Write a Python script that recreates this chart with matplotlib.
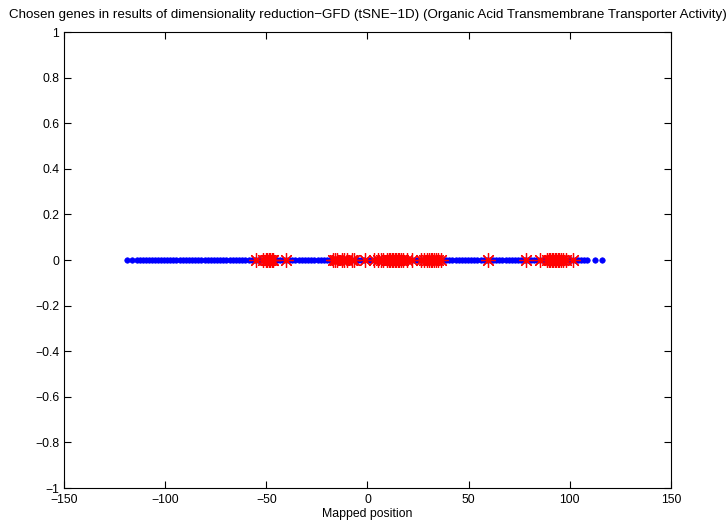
import matplotlib
matplotlib.use("Agg")
import matplotlib.pyplot as plt

plt.rcParams['font.family'] = ['Liberation Sans', 'DejaVu Sans']

title = "Chosen genes in results of dimensionality reduction\u2212GFD (tSNE\u22121D) (Organic Acid Transmembrane Transporter Activity)"
xlabel = "Mapped position"

all_genes = [-118.8, -116.3, -113.9, -112.4, -111.0, -109.6, -108.1, -106.5, -105.2, -103.7,
             -102.0, -100.6, -99.1, -97.4, -96.0, -94.5, -92.9, -91.3, -89.8, -88.4, -86.7,
             -85.1, -83.6, -82.2, -80.5, -79.0, -77.4, -75.9, -74.3, -72.8, -71.2, -69.7,
             -68.1, -66.6, -65.0, -63.5, -61.9, -60.4, -58.8, -57.3, -55.7, -54.2, -52.6,
             -51.1, -49.5, -48.0, -46.4, -44.9, -43.3, -41.8, -40.2, -38.7, -37.1, -35.6,
             -34.0, -32.5, -30.9, -29.4, -27.8, -26.3, -24.7, -23.2, -21.6, -20.1, -18.5,
             -17.0, -15.4, -13.9, -12.3, -10.8, -9.2, -7.7, -6.1, -4.6, -3.0, -1.5, 0.1, 1.6,
             3.2, 4.7, 6.3, 7.8, 9.4, 10.9, 12.5, 14.0, 15.6, 17.1, 18.7, 20.2, 21.8, 23.3,
             24.9, 26.4, 28.0, 29.5, 31.1, 32.6, 34.2, 35.7, 37.3, 38.8, 40.4, 41.9, 43.5,
             45.0, 46.6, 48.1, 49.7, 51.2, 52.8, 54.3, 55.9, 57.4, 59.0, 60.5, 62.1, 63.6,
             65.2, 66.7, 68.3, 69.8, 71.4, 72.9, 74.5, 76.0, 77.6, 79.1, 80.7, 82.2, 83.8,
             85.3, 86.9, 88.4, 90.0, 91.5, 93.1, 94.6, 96.2, 97.7, 99.3, 100.8, 102.4, 103.9,
             105.5, 107.0, 108.6, 112.5, 116.0]

chosen_genes = [-55.0, -51.5, -50.2, -49.6, -48.8, -48.0, -47.2, -46.7, -40.5, -17.0, -16.2,
                -15.0, -12.6, -11.5, -10.0, -7.7, -6.5, -1.2, 3.0, 5.0, 6.5, 7.5, 9.6, 10.5,
                11.2, 12.0, 12.8, 13.5, 14.2, 15.0, 15.8, 16.5, 17.5, 19.5, 22.0, 26.5, 28.0,
                29.5, 30.5, 31.2, 32.0, 33.0, 34.0, 35.0, 36.5, 59.6, 78.4, 85.5, 88.7, 89.5,
                90.3, 91.0, 91.8, 92.5, 93.2, 94.0, 94.8, 95.6, 96.6, 98.0, 101.5]

xticks = [-150, -100, -50, 0, 50, 100, 150]
xticklabels = ["\u2212150", "\u2212100", "\u221250", "0", "50", "100", "150"]
yticks = [-1, -0.8, -0.6, -0.4, -0.2, 0, 0.2, 0.4, 0.6, 0.8, 1]
yticklabels = ["\u22121", "\u22120.8", "\u22120.6", "\u22120.4", "\u22120.2", "0",
               "0.2", "0.4", "0.6", "0.8", "1"]

fig = plt.figure(figsize=(7.28, 5.23), dpi=100)
ax = fig.add_axes([0.0879, 0.0669, 0.8338, 0.8719])

ax.plot(all_genes, [0] * len(all_genes), linestyle='none', marker='o',
        markersize=4.0, color=(0, 0, 1), markeredgewidth=0.4)
ax.plot(chosen_genes, [0] * len(chosen_genes), linestyle='none', marker=(8, 2, 0),
        markersize=10.5, color=(1, 0, 0), markeredgewidth=0.9)

ax.set_xlim(-150, 150)
ax.set_ylim(-1, 1)
ax.set_xticks(xticks)
ax.set_xticklabels(xticklabels)
ax.set_yticks(yticks)
ax.set_yticklabels(yticklabels)
ax.tick_params(direction='in', length=5, width=0.8, top=True, right=True,
               labelsize=8.8)
ax.tick_params(axis='x', pad=4.5)
ax.tick_params(axis='y', pad=3.5)
for s in ax.spines.values():
    s.set_linewidth(0.8)

ax.set_title(title, fontsize=9.6, pad=10)
ax.set_xlabel(xlabel, fontsize=8.8, labelpad=1)

fig.savefig("out.png", dpi=100)
